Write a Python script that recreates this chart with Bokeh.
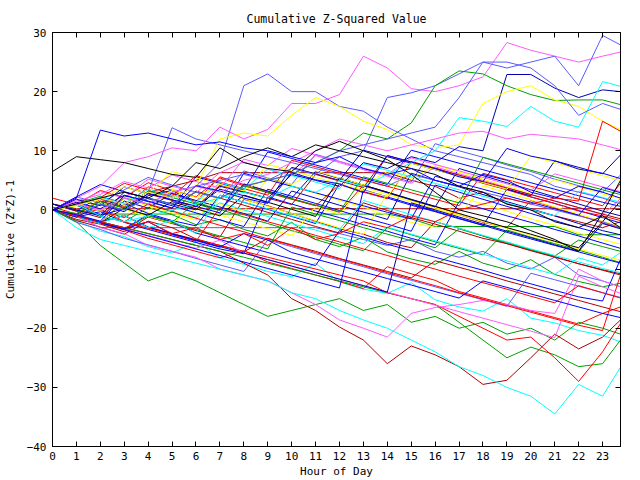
from bokeh.plotting import figure
from bokeh.models import FixedTicker, LinearAxis, Range1d, CustomJSTickFormatter
from bokeh.embed import file_html
from bokeh.resources import INLINE

hours = [0, 1, 2, 3, 4, 5, 6, 7, 8, 9, 10, 11, 12, 13, 14, 15, 16, 17, 18, 19, 20, 21, 22, 23, 23.75]
x_ticks = list(range(24))
y_ticks = [-40, -30, -20, -10, 0, 10, 20, 30]

BLUE = "#0000ff"
LBLUE = "#5a5aff"
NAVY = "#0000b0"
RED = "#ff0000"
DRED = "#b00000"
GREEN = "#00a000"
YELLOW = "#ffff00"
CYAN = "#00ffff"
MAGENTA = "#ff5aff"
BLACK = "#000000"

s01 = [0, 1, -1, 2, 1, 3, 4, 8, 21, 23, 20, 20, 17.5, 16.7, 14, 12, 10, 9, 8, 7, 6, 4, 3, 2, 1]
s02 = [0, 2, 4, 8, 9, 10.5, 10, 14, 12, 13.6, 18, 18, 19.5, 26, 24, 20.5, 20, 21, 22.5, 28.3, 27, 26, 25, 26, 26.7]
s03 = [0, 1, 2, 1, 3, 2, 4, 5, 6, 5, 7, 6, 9, 10, 19, 19.8, 21, 23, 25, 24, 25, 26, 21, 29.5, 27.9]
s04 = [1, 0, -1, 3, 2, 1, 0, 4, 3, 2, 6, 5, 4, 8, 7, 9, 8, 10.7, 10, 22.9, 22.9, 20.6, 19, 20.3, 20]
s05 = [0, -1, 1, 0, 2, 1, 3, 2, 4, 5, 6, 8, 10, 13, 12, 14.7, 21, 23.5, 23, 21, 19.5, 18.5, 18.6, 18.6, 17.8]
s06 = [0, 1, -1, -2, -1, 0, 1, 2, 3, 2, 4, 3, 5, 4, 6, 8, 10, 15.6, 15, 14.1, 17.5, 15, 14, 21.7, 20.9]
s07 = [0, 1, 2, 1, 3, 2, 4, 12, 13, 12.5, 16, 19, 17.5, 15, 13.6, 11, 10.5, 11, 18, 20, 21, 18.6, 17.5, 15, 13.6]
s08 = [0, 1, 0, 2, 1, 3, 4, 3, 5, 6, 8, 10, 12, 11, 10, 11, 12, 13, 13.3, 12, 12.8, 12.4, 12, 11, 10.2]
s09 = [0, -1, 1, 0, 2, 1, 3, 2, 4, 5, 6, 8, 10, 11, 12, 13, 14, 19, 25, 25, 24, 21, 16, 18, 17]
s10 = [6.5, 9, 8.5, 8, 7, 6, 5.5, 10.5, 8, 7, 6.5, 10, 11.6, 10, 8.5, 6, 3, 0, -1, -2, -3.5, -5, -7, -0.5, 5]
s11 = [0, 1, 2, 3, 2, 4, 8, 7, 9, 10.5, 9, 11, 10, 9, 8, 7, 6, 4, 3, 1, 0, -2, -3, -1, -3]
s12 = [0, -1, -2, -3, -2, -4, -3, -5, -4, -6, -3, -5, -4, -2, -3, -1, -2, 0, 1, 2, 1, 2, 1.5, 15, 13.3]
s13 = [0, 2, 13.5, 12.5, 13, 12, 11, 11.5, 10.5, 10, 9, 8, 9, 7, 6, 7, 5, 4, 6, 5, 3, 2, 4, 3, 2]
s14 = [0, -0.8, -1.9, 2.4, 1.5, 0.3, 4.1, 3.2, 2.0, 1.1, 6.3, 5.1, 4.4, 2.9, 9.2, 8.1, 7.0, 5.6, 4.8, 10.4, 9.1, 8.3, 6.9, 6.2, 5.3]
s15 = [0.5, -0.7, 1.8, 0.6, 3.9, 2.7, 1.4, 5.6, 4.3, 3.1, 1.9, 0.8, -0.4, 4.2, 3.0, 1.7, 0.6, -0.8, -2.1, -3.0, 1.6, 0.4, -0.9, -2.2, -3.1]
s16 = [0, -1.6, -2.4, -3.7, -1.2, -2.3, -3.5, -4.6, 1.8, 0.7, -0.6, -1.9, -3.2, -4.1, -5.5, -6.4, -2.0, -3.1, -4.4, -5.7, -6.8, -7.9, -9.1, -10.2, -11.0]
s17 = [0, 0.8, -1.1, -2.0, 0.4, -0.8, -2.5, -1.6, -3.3, -4.4, -2.1, -5.0, -6.2, -4.6, -7.1, -8.3, -9.2, -7.0, -9.0, -10.1, -8.4, -10.9, -12.1, -13.0, -12.4]
s18 = [0, -1.3, 2.1, 0.9, -0.4, 3.6, 2.3, 1.0, -0.3, 5.4, 4.1, 2.8, 1.6, 0.5, -0.9, -2.1, -3.0, 2.2, 1.0, -0.2, -1.5, -2.6, -3.9, -5.0, -5.8]
s19 = [0, -1.8, -3.6, -4.5, -6.2, -7.3, -5.4, -8.1, -9.2, -10.4, -11.3, -9.0, -12.2, -13.4, -14.1, -12.3, -15.2, -16.4, -17.1, -15.0, -18.3, -19.1, -20.4, -21.2, -22.3]
s20 = [1, -0.2, 2.3, 1.1, -0.6, -1.8, -2.7, 2.5, 1.3, 0.1, -1.1, -2.3, 4.4, 3.1, 2.0, 0.8, -0.3, -1.5, -2.6, 3.5, 2.2, 1.1, -0.1, -1.3, -2.2]
s21 = [0, 2.2, 1.1, 3.4, 5.5, 4.2, 3.0, 1.9, 6.6, 5.4, 4.3, 9.4, 8.2, 7.0, 5.9, 4.7, 11.2, 10.0, 8.9, 7.6, 6.5, 5.2, 4.1, 3.0, 5.9]
s22 = [2, 0.9, 3.3, 2.1, 4.6, 3.3, 2.2, 5.4, 4.1, 2.9, 1.8, 0.7, 4.3, 3.0, 1.9, 8.2, 7.1, 5.8, 4.5, 3.4, 2.2, 1.1, -0.2, -1.0, -1.8]
s23 = [1, -0.2, -1.3, 2.1, 0.9, -0.3, 3.2, 2.0, 0.8, -0.4, -1.6, -2.8, -3.9, 1.2, -0.1, -1.3, -2.4, -3.6, -4.8, -5.7, -6.9, -8.0, -9.1, -10.1, -10.8]
s24 = [0, -1.1, -2.2, 1.5, 0.3, 2.8, 1.6, 0.5, -0.6, -1.9, 3.2, 2.0, 0.8, -0.4, -1.6, 6.2, 5.0, 3.9, 2.6, 1.4, 0.2, -1.0, -2.3, -3.5, -4.2]
s25 = [0, -1.2, -0.3, -2.1, -3.3, -4.4, -5.5, -6.6, -7.4, 2.2, 1.0, -0.2, -1.3, -2.5, -3.6, -4.8, -5.9, 1.4, 0.2, -1.0, -2.1, -3.3, -4.4, -5.6, -6.5]
s26 = [0, 1.1, 2.3, 0.2, -1.0, -2.1, 1.3, 0.1, -1.2, -2.3, -3.5, -4.6, -5.8, -6.9, -3.0, -4.2, -5.4, -6.5, -7.6, -3.4, -4.6, -5.7, -6.8, -8.0, -8.9]
s27 = [0, 1.2, 3.1, 2.0, 5.2, 4.0, 2.9, 6.3, 8.1, 6.9, 5.8, 9.2, 8.0, 6.8, 5.7, 4.5, 7.3, 6.1, 5.0, 3.8, 2.6, 1.5, 0.4, -0.8, 1.9]
s28 = [0, -0.9, 1.2, 0.1, -1.1, -2.2, 0.3, -0.9, -2.0, -3.2, -4.3, 0.5, -0.7, 3.8, 2.6, 1.4, 0.2, -1.0, 4.1, 2.9, 1.7, 0.5, -0.7, -1.9, -2.8]
s29 = [0, 1.1, -0.2, 2.2, 1.0, -0.1, -1.3, 1.2, 0.0, -1.1, -2.3, -3.4, -4.6, -5.7, -2.9, -4.1, -5.2, -6.3, -7.5, -8.6, -9.8, -10.9, -8.1, -9.3, -7.2]
s30 = [0, -1.2, -2.3, -3.4, -4.8, -5.9, -7.0, -8.1, -6.9, -8.8, -9.9, -11.0, -12.1, -13.3, -9.6, -10.8, -11.9, -13.8, -14.9, -16.0, -17.1, -18.2, -19.3, -17.5, -16.4]
s31 = [0, -1.8, -2.9, -4.1, -1.9, -3.0, -4.9, -6.0, -7.1, -4.8, -5.9, -7.0, -8.2, -9.3, -10.4, -11.5, -8.6, -9.7, -10.8, -12.0, -13.1, -14.2, -15.3, -16.4, -17.2]
s32 = [0, -1.0, -2.1, -3.2, -0.8, -2.0, -3.9, -5.0, -6.1, -7.2, -8.3, -9.4, -3.5, -4.6, -5.8, -6.9, -8.0, -9.1, -10.2, -11.4, -12.5, -13.6, -14.7, -15.4, -8.3]
s33 = [0, -2.1, -3.3, -4.8, -5.9, -7.0, -8.2, -9.3, -10.4, -5.1, -6.2, -7.4, -8.5, -9.6, -10.8, -11.9, -13.0, -14.1, -15.2, -16.3, -10.7, -11.8, -12.9, -14.0, -14.8]
s34 = [0, -2, -6, -9, -12, -10.5, -12, -14, -16, -18, -17, -16, -15, -17, -16, -19, -18, -20, -19, -21, -20, -22, -19, -20, -21]
s35 = [0, -1, -3, -4, -6, -7, -8, -10, -11, -12, -14, -16, -18.6, -20, -21.5, -17.5, -16.5, -16, -15.3, -16, -17, -17.5, -10, -12, -13]
s36 = [0, -1.1, -2.3, 1.9, 0.7, -0.5, -1.7, 3.1, 1.9, 0.6, -0.6, -1.8, -3.0, -4.1, 2.8, 1.6, 0.4, -0.8, -2.0, -3.1, -4.3, -5.4, -6.6, -7.7, -8.5]
s37 = [0, -1.0, -2.2, 0.3, -0.9, 1.4, 0.2, -1.0, 2.5, 1.3, 0.1, -1.1, 5.4, 4.2, 3.0, 1.8, 0.6, -0.6, -1.8, -3.0, -4.1, -5.3, -6.4, -2.0, 1.5]
s38 = [0, 1.1, -0.9, 0.2, 2.4, 3.3, 1.1, 0.0, 4.4, 3.2, 2.0, 6.5, 5.3, 4.1, 2.9, 1.7, 0.5, 7.0, 5.8, 4.6, 3.4, 2.2, 1.0, -0.2, -1.0]
s39 = [0, 2.2, 4.3, 3.1, 1.9, 0.7, -0.5, -1.7, -2.8, 3.5, 2.3, 1.1, -0.1, -1.3, -2.4, -3.6, 4.2, 3.0, 1.8, 0.6, -0.6, -1.8, -3.0, -4.1, -4.9]
s40 = [0, 1.2, -0.1, -1.3, 1.0, -0.2, -1.4, -2.6, -3.7, -4.9, -6.0, -7.2, -8.3, -9.4, -10.6, -11.7, -12.8, -14.0, -15.1, -16.2, -17.3, -18.4, -19.5, -20.4, -11.0]
s41 = [0, -1, -2, -3, -4, -5, -6, -7, -9, -11, -15, -17, -19.8, -22, -26, -23, -24.5, -26.5, -29.5, -28.8, -25, -21, -23.5, -21.5, -18.6]
s42 = [0, -3, -5, -6, -7, -8, -9, -10, -11, -12, -14, -15, -17, -18.6, -20, -22, -24, -26.5, -28, -30, -31.5, -34.5, -29.5, -31.5, -26.6]
s43 = [0, -1.1, -2.2, -3.3, -1.0, -2.1, -3.3, -4.4, -5.5, -6.6, 0.5, -0.7, -1.8, -3.0, -4.1, -5.2, -6.4, -3.2, -4.4, -5.5, -6.7, -7.8, -5.1, -6.2, -7.0]
s44 = [1, 0.2, 0.2, 0.2, 0.2, 0.2, 0.2, 0.2, 0.2, 0.2, 0.2, 0.2, 0.2, 0.2, 0.2, 0.2, 0.2, 0.2, 0.2, 0.2, 0.2, 0.2, 0.2, 0.2, 0.2]
s45 = [1, 0, -0.7, -0.7, -0.7, -0.7, -0.7, -0.7, -0.7, -0.7, -0.7, -0.7, -0.7, -0.7, -0.7, -1.5, -2.8, -2.8, -2.8, -2.8, -2.8, -2.8, -4.2, -4.2, -4.2]
s46 = [0, -1, -3, -3, -3, -3, -3, -3, -3, -3, -3, -3, -4, -5, -6, -5, -7, -8, -7, -9, -10, -8, -11, -12, -13]
s47 = [0, 1, 2, 1, 3, 4, 5, 6.3, 6.3, 6.3, 6.3, 6.3, 6.3, 6.3, 6.3, 5, 4, 2, 3, 1, 0, -1, -2, -3, -2]
s48 = [0, -1, -2, -3, -4, -5, -6, -7, -8, -9, -10, -11, -12, -13, -14, -15, -16, -19, -22, -25, -23.2, -24.5, -26.5, -26, -22]
s49 = [0, -1, -2, -1, -3, -4, -5, -6, -7, -8, -9, -10, -11, -12, -14, -15, -16, -18, -20, -22, -21.5, -25, -29, -24, -19.2]
s50 = [0, -1.0, -2.1, -3.2, -4.3, -5.4, -6.5, -5.1, -7.3, -8.4, -9.5, -10.6, -11.7, -12.8, -13.9, -15.0, -16.1, -17.2, -18.3, -19.4, -20.5, -21.6, -11.2, -13.0, -14.1]
s51 = [0, -1.1, -2.2, -3.3, -4.4, -5.5, -6.6, -7.7, -8.8, -9.9, -11.0, -12.1, -13.2, 3.4, 2.2, 1.0, -0.2, -1.4, -2.6, -3.8, -4.9, -6.0, -7.1, -8.2, -9.0]
s52 = [0, -1.0, -2.1, -0.9, -2.9, -4.0, -5.1, -6.2, -7.3, -8.4, -9.5, -10.6, -11.7, -12.8, -13.9, 1.2, 0.0, -1.2, -2.4, -3.6, -4.7, -5.9, -7.0, -2.3, -3.2]
s53 = [0, -1.0, 0.2, -2.0, -3.1, -4.2, -5.3, 0.4, -0.8, -2.0, -3.1, -4.3, -5.4, -6.6, -7.7, -8.9, -10.0, -11.2, -12.3, -13.4, -14.6, -15.7, -12.8, -14.0, -14.9]
s54 = [0, 1.1, -0.1, 2.2, 1.0, 3.3, 2.1, 4.4, 3.2, 5.5, 4.3, 6.6, 5.4, 4.2, 6.5, 5.3, 7.6, 6.4, 5.2, 4.0, 2.8, 5.1, 3.9, 2.7, 1.9]
s55 = [0, -1.1, -2.2, -0.9, -3.0, -1.8, -4.0, 2.5, 1.3, 0.2, -1.0, -2.1, -3.3, 1.6, 0.4, -0.8, -2.0, -3.1, -4.3, -5.4, -6.6, -7.7, -8.8, -9.9, -10.6]
s56 = [0, 1, 2, 1, 3, 13.9, 12, 11, 10, 9, 8, 7, 6, 5, 4, 6, 5, 4, 3, 2, 1, 0, -1, -2, -3]
s57 = [0, -1.0, -2.1, -3.2, -2.0, -4.1, -5.2, -6.3, -4.0, -5.1, -7.2, -8.3, -9.4, -10.5, -11.6, -12.7, -13.8, -14.9, -12.0, -13.1, -14.2, -15.3, -16.4, -17.5, -18.2]
s58 = [0, 1.3, 0.2, 2.5, 1.4, 0.3, 5.6, 4.5, 3.4, 9.8, 8.7, 7.6, 6.5, 5.4, 4.3, 10.1, 9.0, 7.9, 6.8, 5.7, 4.6, 3.5, 2.4, 1.3, 0.6]
s59 = [0, 1.0, 2.1, 4.5, 3.4, 2.3, 5.8, 4.7, 3.6, 2.5, 8.4, 7.3, 6.2, 5.1, 4.0, 2.9, 1.8, 0.7, 6.2, 5.1, 4.0, 2.9, 1.8, 0.7, 4.5]
s60 = [0, 0.9, 2.2, 1.1, 3.5, 2.4, 1.3, 4.6, 3.5, 6.9, 5.8, 4.7, 3.6, 7.8, 6.7, 5.6, 4.5, 3.4, 2.3, 1.2, 0.1, -1.0, 3.2, 2.1, 1.3]
s61 = [0, 1.5, 2.6, 4.8, 3.7, 5.9, 4.8, 3.7, 8.6, 7.5, 10.4, 9.3, 8.2, 7.1, 6.0, 8.8, 7.7, 6.6, 5.5, 4.4, 3.3, 6.1, 5.0, 3.9, 3.1]
s62 = [0, 1.8, 0.7, 3.9, 2.8, 1.7, 0.6, 3.5, 2.4, 1.3, 7.2, 6.1, 5.0, 10.1, 9.0, 7.9, 6.8, 5.7, 4.6, 3.5, 2.4, 8.3, 7.2, 6.1, 9.3]
s63 = [0, -0.8, 1.5, 0.4, 2.7, 1.6, 0.5, 4.2, 3.1, 2.0, 0.9, 6.0, 4.9, 3.8, 9.2, 8.1, 7.0, 5.9, 4.8, 3.7, 2.6, 1.5, 0.4, -0.7, -1.5]
s64 = [0, 0.7, 1.8, 3.9, 2.8, 6.5, 5.4, 4.3, 3.2, 7.7, 6.6, 5.5, 4.4, 3.3, 2.2, 7.9, 6.8, 5.7, 4.6, 3.5, 9.1, 8.0, 6.9, 5.8, 5.0]
s65 = [0, -0.6, 1.4, 0.3, 3.2, 2.1, 1.0, -0.1, 4.1, 3.0, 1.9, 0.8, -0.3, 5.6, 4.5, 3.4, 2.3, 1.2, 8.9, 7.8, 6.7, 5.6, 4.5, 3.4, 2.6]
s66 = [0, -1.2, 0.9, -0.3, 2.8, 1.7, 0.6, -0.5, 6.2, 5.1, 4.0, 2.9, 1.8, 0.7, -0.4, -1.5, 5.7, 4.6, 3.5, 2.4, 1.3, 0.2, -0.9, 3.8, 2.9]

series = [
    (s44, DRED), (s45, GREEN), (s46, LBLUE), (s47, DRED),
    (s15, RED), (s16, DRED), (s17, GREEN), (s18, YELLOW), (s19, CYAN),
    (s20, BLUE), (s21, LBLUE), (s22, RED), (s23, DRED), (s24, NAVY),
    (s25, BLUE), (s26, GREEN), (s27, MAGENTA), (s28, YELLOW), (s29, CYAN),
    (s30, RED), (s31, DRED), (s32, BLUE), (s33, LBLUE), (s34, GREEN),
    (s35, MAGENTA), (s36, YELLOW), (s37, BLACK), (s38, NAVY), (s39, BLUE),
    (s40, RED), (s41, DRED), (s42, CYAN), (s43, GREEN), (s48, GREEN),
    (s49, RED), (s50, MAGENTA), (s51, BLUE), (s52, NAVY), (s53, RED),
    (s54, YELLOW), (s55, CYAN), (s56, LBLUE), (s57, BLUE),
    (s58, BLUE), (s59, RED), (s60, CYAN), (s61, MAGENTA), (s62, NAVY),
    (s63, DRED), (s64, YELLOW), (s65, GREEN), (s66, BLUE),
    (s01, LBLUE), (s02, MAGENTA), (s03, LBLUE), (s04, NAVY), (s05, GREEN),
    (s06, CYAN), (s07, YELLOW), (s08, MAGENTA), (s09, LBLUE), (s10, BLACK),
    (s11, BLACK), (s12, RED), (s13, BLUE), (s14, BLUE),
]

FONT = "DejaVu Sans Mono"

p = figure(width=640, height=480, output_backend="svg", toolbar_location=None,
           x_range=Range1d(0, 23.75), y_range=Range1d(-40, 30),
           min_border_left=51, min_border_right=20, min_border_top=32, min_border_bottom=34,
           title="Cumulative Z-Squared Value")
p.background_fill_color = "white"
p.border_fill_color = "white"
p.outline_line_color = "black"
p.grid.visible = False

p.title.align = "center"
p.title.text_font = FONT
p.title.text_font_size = "11.5px"
p.title.text_font_style = "normal"
p.title.text_color = "black"
p.title.standoff = 14

for s, c in series:
    p.line(hours, s, line_color=c, line_width=1)

def style(ax, size="11px"):
    ax.major_tick_in = 5
    ax.major_tick_out = 0
    ax.minor_tick_in = 0
    ax.minor_tick_out = 0
    ax.axis_line_color = "black"
    ax.major_tick_line_color = "black"
    ax.major_label_text_font = FONT
    ax.major_label_text_font_size = size
    ax.major_label_text_color = "black"
    ax.axis_label_text_font = FONT
    ax.axis_label_text_font_size = "11px"
    ax.axis_label_text_font_style = "normal"
    ax.axis_label_text_color = "black"

p.xaxis.ticker = FixedTicker(ticks=x_ticks, minor_ticks=[])
p.yaxis.ticker = FixedTicker(ticks=y_ticks, minor_ticks=[])
p.xaxis.axis_label = "Hour of Day"
p.yaxis.axis_label = "Cumulative (Z*Z)-1"
style(p.xaxis[0])
style(p.yaxis[0])
p.xaxis.major_label_standoff = 5
p.xaxis.axis_label_standoff = 2
p.yaxis.major_label_standoff = 6
p.yaxis.axis_label_standoff = 7

blank = CustomJSTickFormatter(code="return ''")
top = LinearAxis(ticker=FixedTicker(ticks=x_ticks, minor_ticks=[]), formatter=blank,
                 major_label_standoff=0)
style(top, "1px")
p.add_layout(top, "above")
right = LinearAxis(ticker=FixedTicker(ticks=y_ticks, minor_ticks=[]), formatter=blank,
                   major_label_standoff=0)
style(right, "1px")
p.add_layout(right, "right")

open("out.html", "w").write(file_html(p, INLINE))
